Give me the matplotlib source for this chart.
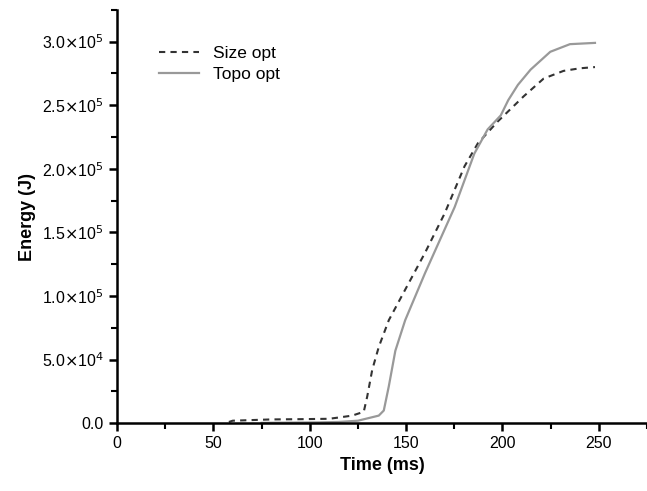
import matplotlib
matplotlib.use('Agg')
import matplotlib.pyplot as plt
from matplotlib.ticker import FuncFormatter, MultipleLocator

plt.rcParams['font.family'] = ['Liberation Sans', 'DejaVu Sans']

size_t = [58, 60, 70, 80, 95, 110, 115, 122, 128, 129.8, 132.4, 135.8, 141, 149.5, 159.8,
          170, 180.3, 187.2, 197.4, 211, 221.4, 231.7, 240, 248]
size_e = [0.01, 0.02, 0.025, 0.03, 0.032, 0.035, 0.045, 0.06, 0.09, 0.21, 0.42, 0.60, 0.81,
          1.05, 1.34, 1.65, 2.02, 2.20, 2.37, 2.57, 2.71, 2.77, 2.79, 2.80]

topo_t = [75, 90, 105, 115, 125, 135.8, 138.4, 141, 144.4, 149.5, 159.8, 175.2, 185.4,
          192.3, 199.1, 203, 208, 214.6, 224.8, 235, 248]
topo_e = [0.003, 0.005, 0.007, 0.01, 0.02, 0.06, 0.10, 0.29, 0.57, 0.81, 1.18, 1.70, 2.12,
          2.31, 2.42, 2.54, 2.66, 2.78, 2.92, 2.98, 2.99]

fig = plt.figure(figsize=(6.47, 4.91), dpi=100)
ax = fig.add_axes([0.181, 0.138, 0.819, 0.842])

ax.plot(size_t, [v * 1e5 for v in size_e], color='#333333', linestyle=(0, (3, 2.5)),
        linewidth=1.5, label='Size opt')
ax.plot(topo_t, [v * 1e5 for v in topo_e], color='#999999', linewidth=1.6, label='Topo opt')

ax.set_xlim(0, 275)
ax.set_ylim(0, 3.25e5)
ax.xaxis.set_major_locator(MultipleLocator(50))
ax.xaxis.set_minor_locator(MultipleLocator(25))
ax.yaxis.set_major_locator(MultipleLocator(0.5e5))
ax.yaxis.set_minor_locator(MultipleLocator(0.25e5))


def fmt(v, pos):
    if v == 0:
        return '0.0'
    exp = 5 if v >= 1e5 else 4
    return r'%.1f$\times$10$^{%d}$' % (v / 10 ** exp, exp)


ax.yaxis.set_major_formatter(FuncFormatter(fmt))
for s in ['top', 'right']:
    ax.spines[s].set_visible(False)
for s in ['left', 'bottom']:
    ax.spines[s].set_linewidth(1.8)
ax.tick_params(which='major', direction='out', length=6, width=1.8, labelsize=11.5)
ax.tick_params(which='minor', direction='out', length=4, width=1.5)

ax.set_xlabel('Time (ms)', fontsize=13, fontweight='bold')
ax.set_ylabel('Energy (J)', fontsize=13, fontweight='bold')
ax.legend(loc='upper left', bbox_to_anchor=(0.05, 0.95), frameon=False, fontsize=12.5,
          handlelength=2.3, labelspacing=0.3)

fig.savefig('out.png', dpi=100)
